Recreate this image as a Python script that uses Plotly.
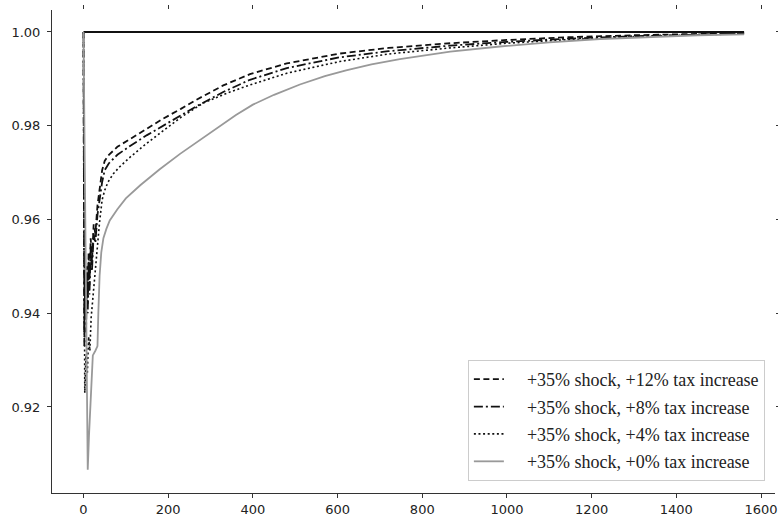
import plotly.graph_objects as go

# ---------------- data ----------------
base_t = [0, 1560]
base_v = [1.0, 1.0]

t12 = [0, 2, 4, 6, 8, 10, 12, 14, 17, 20, 24, 28, 33, 38, 44, 50, 60, 80, 110, 150, 188, 230, 268, 330, 393, 480, 605, 720, 866, 1000, 1150, 1300, 1450, 1560]
v12 = [1.0, 0.936, 0.947, 0.939, 0.950, 0.942, 0.953, 0.946, 0.956, 0.951, 0.959, 0.957, 0.963, 0.966, 0.9705, 0.9725, 0.9738, 0.9755, 0.9772, 0.9795, 0.9815, 0.9836, 0.9856, 0.9886, 0.9910, 0.9933, 0.9954, 0.9966, 0.9976, 0.9983, 0.9989, 0.9993, 0.9996, 0.9998]

t8 = [0, 2, 4, 6, 8, 10, 12, 14, 17, 20, 24, 28, 33, 38, 44, 50, 60, 80, 110, 150, 188, 230, 268, 330, 393, 480, 605, 720, 866, 1000, 1150, 1300, 1450, 1560]
v8 = [1.0, 0.933, 0.945, 0.936, 0.948, 0.940, 0.951, 0.944, 0.954, 0.949, 0.957, 0.955, 0.961, 0.964, 0.968, 0.9705, 0.972, 0.9738, 0.9757, 0.978, 0.980, 0.9821, 0.9842, 0.9872, 0.9898, 0.9923, 0.9946, 0.9959, 0.9971, 0.9979, 0.9986, 0.9991, 0.9995, 0.9997]

t4 = [0, 3, 6, 9, 12, 15, 18, 22, 27, 33, 38, 44, 50, 58, 70, 85, 110, 150, 188, 230, 282, 340, 393, 480, 605, 720, 866, 1000, 1150, 1300, 1450, 1560]
v4 = [1.0, 0.923, 0.931, 0.927, 0.935, 0.932, 0.939, 0.943, 0.949, 0.955, 0.9595, 0.9642, 0.9662, 0.9680, 0.9697, 0.9712, 0.9733, 0.9763, 0.9790, 0.9818, 0.9848, 0.9870, 0.9887, 0.9912, 0.9937, 0.9953, 0.9966, 0.9976, 0.9984, 0.9990, 0.9994, 0.9996]

t0 = [0, 4, 8, 10, 13, 16, 22, 28, 33, 35, 38, 42, 47, 54, 62, 80, 100, 134, 180, 228, 280, 322, 360, 400, 450, 511, 570, 620, 680, 747, 866, 983, 1100, 1220, 1350, 1450, 1560]
v0 = [1.0, 0.955, 0.915, 0.9066, 0.914, 0.921, 0.931, 0.932, 0.933, 0.940, 0.948, 0.953, 0.956, 0.958, 0.9598, 0.9622, 0.9645, 0.9673, 0.9707, 0.9740, 0.9773, 0.9800, 0.9823, 0.9845, 0.9866, 0.9888, 0.9906, 0.9918, 0.9931, 0.9942, 0.9958, 0.9969, 0.9978, 0.9985, 0.9990, 0.9993, 0.9995]

labels = ["+35% shock, +12% tax increase", "+35% shock, +8% tax increase",
          "+35% shock, +4% tax increase", "+35% shock, +0% tax increase"]

x_ticks = [0, 200, 400, 600, 800, 1000, 1200, 1400, 1600]
y_ticks = [0.92, 0.94, 0.96, 0.98, 1.00]

x_range = [-74.4, 1633]
y_range = [0.90165, 1.00469]

PAD = "\u2002\u2002"  # spacing between legend sample and label

# ---------------- figure ----------------
fig = go.Figure()
fig.add_trace(go.Scatter(x=base_t, y=base_v, mode="lines", showlegend=False,
                         line=dict(color="#111111", width=2.2)))
styles = [
    dict(color="#111111", width=1.8, dash="6px,3.5px"),
    dict(color="#111111", width=1.8, dash="9px,3px,2px,3px"),
    dict(color="#111111", width=1.6, dash="2px,2.6px"),
    dict(color="#999999", width=1.8),
]
for i, (tt, vv) in enumerate([(t12, v12), (t8, v8), (t4, v4), (t0, v0)]):
    fig.add_trace(go.Scatter(x=tt, y=vv, mode="lines", name=PAD + labels[i],
                             legendgroup="g%d" % i, line=styles[i]))
# invisible trace to carry the mirrored tick axes
fig.add_trace(go.Scatter(x=[None], y=[None], xaxis="x2", yaxis="y2",
                         showlegend=False, hoverinfo="skip"))

tickfont = dict(family="DejaVu Sans", size=13, color="#222222")

fig.update_layout(
    width=778, height=521,
    margin=dict(l=52, r=3, t=10, b=28, autoexpand=False),
    paper_bgcolor="white", plot_bgcolor="white",
    xaxis=dict(range=x_range, tickvals=x_ticks, ticks="outside", ticklen=4,
               tickcolor="#333333", showline=True, linecolor="#333333", linewidth=1,
               showgrid=False, zeroline=False, tickfont=tickfont, automargin=False),
    yaxis=dict(range=y_range, tickvals=y_ticks, tickformat=".2f", ticks="outside",
               ticklen=4, tickcolor="#333333", showline=True, linecolor="#333333",
               linewidth=1, showgrid=False, zeroline=False, tickfont=tickfont,
               automargin=False, ticklabelstandoff=4),
    xaxis2=dict(range=x_range, tickvals=x_ticks, overlaying="x", side="top",
                anchor="y", ticks="outside", ticklen=4, tickcolor="#333333",
                showticklabels=False, showline=False, showgrid=False, zeroline=False,
                automargin=False),
    yaxis2=dict(range=y_range, tickvals=y_ticks, overlaying="y", side="right",
                anchor="x", ticks="outside", ticklen=4, tickcolor="#333333",
                showticklabels=False, showline=False, showgrid=False, zeroline=False,
                automargin=False),
    legend=dict(x=0.986, y=0.025, xanchor="right", yanchor="bottom",
                bgcolor="rgba(255,255,255,0.85)", bordercolor="#cccccc", borderwidth=1,
                font=dict(family="Liberation Serif", size=18, color="#222222"),
                itemwidth=30, tracegroupgap=1),
    showlegend=True,
)

fig.write_html("out.html", config={"displayModeBar": False},
               post_script="document.body.style.margin='0';document.body.style.padding='0';")
